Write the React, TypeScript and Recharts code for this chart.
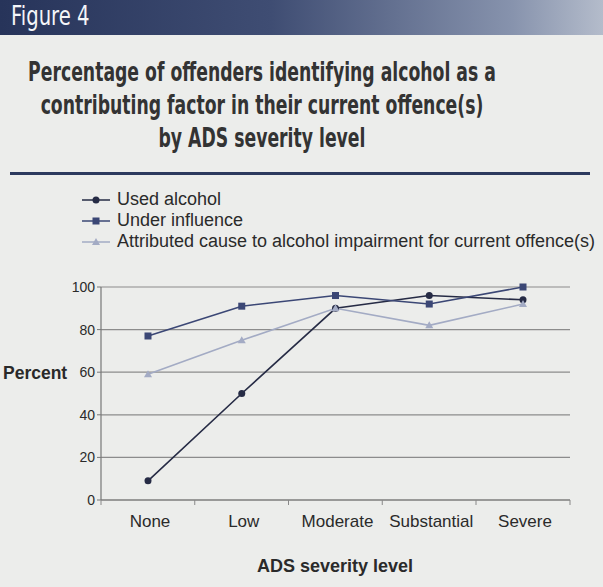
import { CartesianGrid, Line, LineChart, XAxis, YAxis } from "recharts";

const levels = ["None", "Low", "Moderate", "Substantial", "Severe"];
const usedAlcohol = [9, 50, 90, 96, 94];
const underInfluence = [77, 91, 96, 92, 100];
const attributedCause = [59, 75, 90, 82, 92];
const percentTicks = [0, 20, 40, 60, 80, 100];

const series = [
  { key: "used", name: "Used alcohol", color: "#262b45", shape: "circle" },
  { key: "influence", name: "Under influence", color: "#3b4775", shape: "square" },
  {
    key: "attributed",
    name: "Attributed cause to alcohol impairment for current offence(s)",
    color: "#a3abc4",
    shape: "triangle",
  },
];

const data = levels.map((level, i) => ({
  level,
  used: usedAlcohol[i],
  influence: underInfluence[i],
  attributed: attributedCause[i],
}));

const font = "'Liberation Sans', Arial, sans-serif";
const condensed = "'DejaVu Sans Condensed', 'DejaVu Sans', sans-serif";

// half the distance between two category points (matches the axis padding)
const HALF_STEP = 47;

function Marker({ cx, cy, shape, color }: any) {
  if (cx == null || cy == null) return null;
  if (shape === "square") {
    return <rect x={cx - 3.5} y={cy - 3.5} width={7} height={7} fill={color} />;
  }
  if (shape === "triangle") {
    return (
      <path
        d={`M${cx},${cy - 4} L${cx + 4},${cy + 3} L${cx - 4},${cy + 3} Z`}
        fill={color}
      />
    );
  }
  return <circle cx={cx} cy={cy} r={3.5} fill={color} />;
}

// category label plus the small divider ticks between categories
function LevelTick({ x, y, payload, index }: any) {
  return (
    <g>
      <line x1={x - HALF_STEP} y1={y} x2={x - HALF_STEP} y2={y + 5} stroke="#888" />
      {index === levels.length - 1 && (
        <line x1={x + HALF_STEP} y1={y} x2={x + HALF_STEP} y2={y + 5} stroke="#888" />
      )}
      <text
        x={x + 2}
        y={y + 21}
        dy="0.35em"
        textAnchor="middle"
        fontSize={17}
        fontFamily={font}
        fill="#2a2a2a"
      >
        {payload.value}
      </text>
    </g>
  );
}

function LegendBox() {
  return (
    <div style={{ fontFamily: font, fontSize: 18, color: "#2a2a2a", lineHeight: "21px" }}>
      {series.map((s) => (
        <div key={s.key} style={{ display: "flex", alignItems: "center", whiteSpace: "nowrap" }}>
          <svg width={32} height={12} style={{ marginRight: 5 }}>
            <line x1={2} y1={6} x2={30} y2={6} stroke={s.color} strokeWidth={1.5} />
            <Marker cx={16} cy={6} shape={s.shape} color={s.color} />
          </svg>
          <span>{s.name}</span>
        </div>
      ))}
    </div>
  );
}

const titleLine = {
  width: 800,
  textAlign: "center" as const,
  whiteSpace: "nowrap" as const,
};

export default function App() {
  return (
    <div
      style={{
        position: "fixed",
        top: 0,
        left: 0,
        width: 603,
        height: 587,
        background: "#ecedeb",
        overflow: "hidden",
      }}
    >
      <div
        style={{
          position: "absolute",
          top: 0,
          left: 0,
          width: 603,
          height: 35,
          background: "linear-gradient(90deg, #27345a 0%, #3f4d73 45%, #8793ad 85%, #b4bccb 100%)",
        }}
      />
      <div
        style={{
          position: "absolute",
          top: 1,
          left: 11,
          color: "#f4f5f8",
          fontFamily: condensed,
          fontSize: 26,
          whiteSpace: "nowrap",
          transform: "scaleX(0.84)",
          transformOrigin: "left center",
        }}
      >
        Figure 4
      </div>
      <div
        style={{
          position: "absolute",
          top: 55,
          left: -138,
          width: 800,
          fontFamily: condensed,
          fontWeight: "bold",
          fontSize: 27,
          lineHeight: "33px",
          color: "#333",
          transform: "scaleX(0.71)",
          transformOrigin: "400px 0",
        }}
      >
        <div style={titleLine}>Percentage of offenders identifying alcohol as a</div>
        <div style={titleLine}>contributing factor in their current offence(s)</div>
        <div style={titleLine}>by ADS severity level</div>
      </div>
      <div
        style={{
          position: "absolute",
          top: 172,
          left: 10,
          width: 580,
          height: 3,
          background: "#2c3a5e",
        }}
      />
      <div style={{ position: "absolute", top: 189, left: 80 }}>
        <LegendBox />
      </div>
      <div
        style={{
          position: "absolute",
          top: 363,
          left: 3,
          fontFamily: font,
          fontWeight: "bold",
          fontSize: 17.5,
          color: "#2a2a2a",
        }}
      >
        Percent
      </div>
      <div
        style={{
          position: "absolute",
          top: 556,
          left: 0,
          width: 670,
          textAlign: "center",
          fontFamily: font,
          fontWeight: "bold",
          fontSize: 18,
          color: "#2a2a2a",
        }}
      >
        ADS severity level
      </div>
      <div style={{ position: "absolute", top: 0, left: 0 }}>
        <LineChart
          width={603}
          height={587}
          data={data}
          margin={{ top: 287, right: 33, left: 61, bottom: 57 }}
        >
          <CartesianGrid vertical={false} stroke="#8c8c8c" strokeWidth={1.2} />
          <XAxis
            dataKey="level"
            height={30}
            padding={{ left: HALF_STEP, right: HALF_STEP }}
            axisLine={{ stroke: "#777", strokeWidth: 1.2 }}
            tickLine={false}
            tickSize={0}
            tickMargin={0}
            tick={<LevelTick />}
            interval={0}
          />
          <YAxis
            width={40}
            domain={[0, 100]}
            ticks={percentTicks}
            axisLine={{ stroke: "#777", strokeWidth: 1.2 }}
            tickLine={{ stroke: "#777" }}
            tickSize={4}
            tickMargin={2}
            tick={{ fontSize: 14, fill: "#2a2a2a", fontFamily: font }}
          />
          <YAxis
            yAxisId="frame"
            orientation="right"
            width={0}
            domain={[0, 100]}
            tick={false}
            tickLine={false}
            axisLine={{ stroke: "#888", strokeWidth: 1.2 }}
          />
          {series.map((s) => (
            <Line
              key={s.key}
              dataKey={s.key}
              name={s.name}
              type="linear"
              stroke={s.color}
              strokeWidth={1.6}
              dot={(p: any) => (
                <Marker key={`${s.key}-${p.index}`} cx={p.cx} cy={p.cy} shape={s.shape} color={s.color} />
              )}
              activeDot={false}
              isAnimationActive={false}
            />
          ))}
        </LineChart>
      </div>
    </div>
  );
}
